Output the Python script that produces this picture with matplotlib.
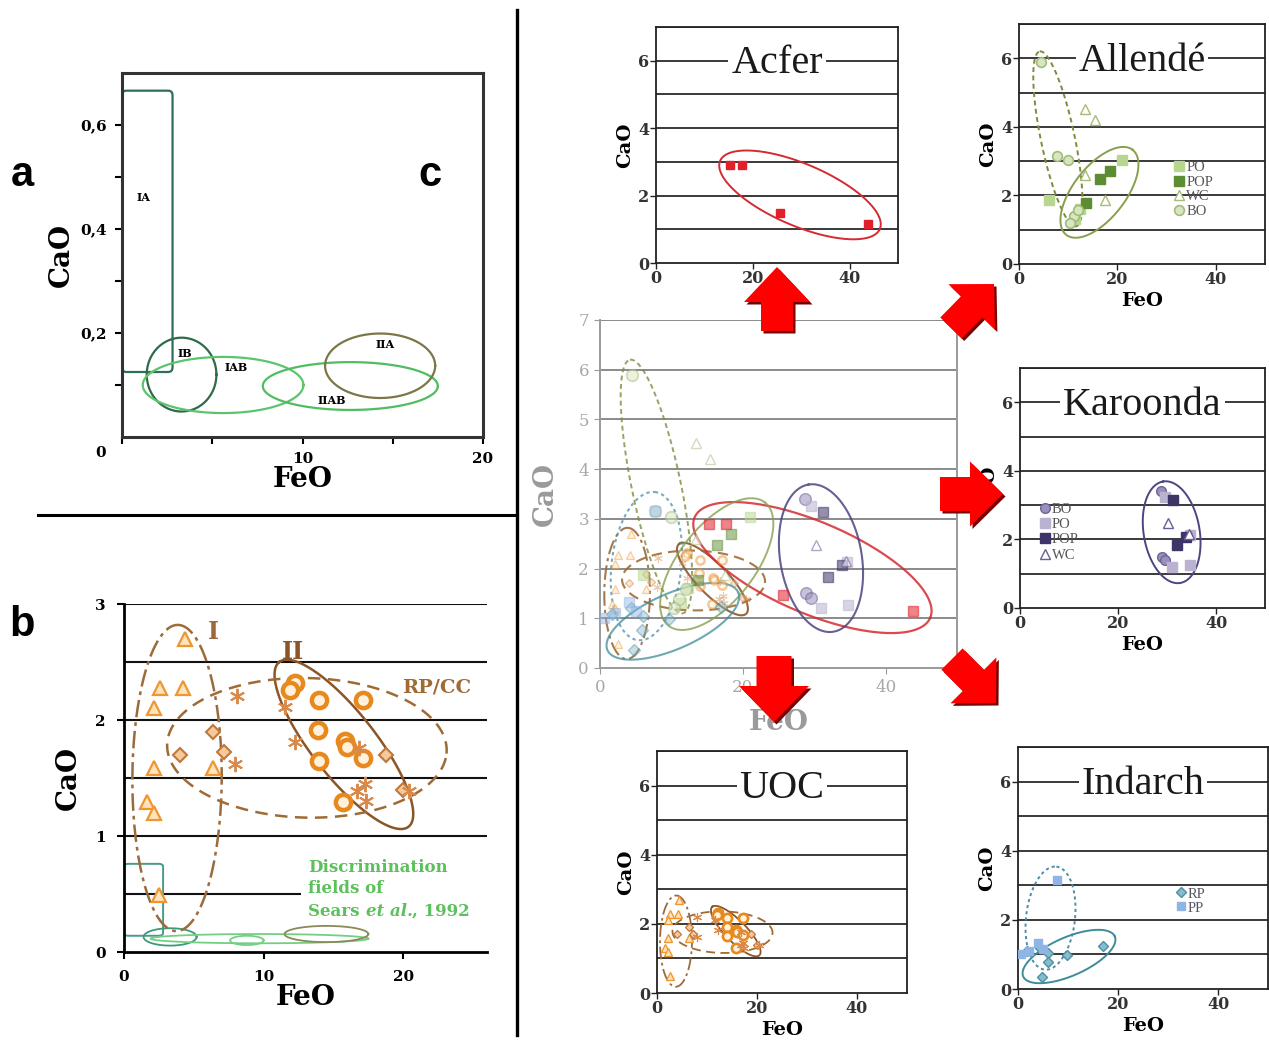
import numpy as np
import matplotlib
matplotlib.use("Agg")
import matplotlib.pyplot as plt
from matplotlib.lines import Line2D
from matplotlib.patches import Polygon, FancyBboxPatch

W, H = 1269, 1041
SERIF = "DejaVu Serif"
TITLE = "Liberation Serif"

# ---- (a) Sears et al. 1992 discrimination fields
ia_feo = (0.0, 2.8)
ia_cao = (0.125, 0.666)
sears_label = ["IB", "IAB", "IIAB", "IIA"]
sears_cx = [3.3, 5.6, 12.65, 14.3]
sears_cy = [0.12, 0.10, 0.098, 0.137]
sears_rx = [1.93, 4.45, 4.85, 3.05]
sears_ry = [0.071, 0.054, 0.046, 0.062]
sears_color = ["#2f6b48", "#5cc46c", "#4fbd60", "#7c7648"]
sears_lab_x = [3.5, 6.3, 11.6, 14.6]
sears_lab_y = [0.16, 0.133, 0.071, 0.177]

# same fields redrawn on the CaO 0-3 scale of (b)
sears_b_box = (0.0, 0.14, 2.8, 0.76)
sears_b_cx = [3.3, 9.7, 8.8, 14.5]
sears_b_cy = [0.13, 0.115, 0.10, 0.155]
sears_b_rx = [1.9, 7.8, 1.2, 3.0]
sears_b_ry = [0.075, 0.04, 0.04, 0.07]
sears_b_color = ["#3b9a7a", "#74cf84", "#74cf84", "#8a8a58"]

# ---- (b) / UOC chondrules
tri_fe = [4.37, 2.58, 4.24, 2.15, 2.15, 6.4, 1.62, 2.15, 2.53]
tri_ca = [2.70, 2.28, 2.28, 2.10, 1.59, 1.59, 1.29, 1.20, 0.49]
dia_fe = [4.0, 6.4, 7.16, 18.8, 20.0]
dia_ca = [1.70, 1.90, 1.72, 1.70, 1.40]
cir_fe = [12.24, 11.9, 14.0, 17.1, 13.9, 15.8, 15.94, 17.1, 14.0, 15.7]
cir_ca = [2.32, 2.26, 2.17, 2.17, 1.91, 1.82, 1.77, 1.67, 1.65, 1.29]
ast_fe = [8.07, 11.5, 12.24, 7.95, 16.8, 17.25, 16.7, 17.3, 20.4]
ast_ca = [2.21, 2.11, 1.81, 1.62, 1.76, 1.45, 1.39, 1.30, 1.39]
# ellipses: centre, conjugate half-axis vectors (FeO, CaO)
oval_I = ((3.8, 1.5), (0.05, 1.32), (3.2, 0.0))
oval_II = ((15.75, 1.79), (-4.63, 0.71), (1.80, 0.17))
oval_rpcc = ((13.1, 1.76), (10.0, -0.05), (0.5, 0.60))

# ---- Acfer
acfer_fe = [15.3, 17.7, 25.6, 43.8]
acfer_ca = [2.90, 2.90, 1.47, 1.15]
oval_acfer = ((29.75, 2.02), (16.5, -1.01), (2.5, 0.846))

# ---- Allende
all_po_fe = [21.0, 6.0, 11.3, 12.3]
all_po_ca = [3.04, 1.88, 1.30, 1.60]
all_pop_fe = [16.4, 18.4, 13.7]
all_pop_ca = [2.48, 2.70, 1.78]
all_wc_fe = [13.5, 15.4, 13.5, 17.5]
all_wc_ca = [4.52, 4.20, 2.60, 1.88]
all_bo_fe = [4.5, 7.7, 9.9, 11.1, 10.4, 12.0]
all_bo_ca = [5.9, 3.16, 3.04, 1.39, 1.20, 1.58]
oval_all_bo = ((7.9, 3.65), (-3.7, 2.55), (3.37, 0.10))
oval_all = ((16.35, 2.09), (6.75, 1.24), (4.16, -0.467))

# ---- Karoonda
kar_bo_fe = [28.7, 28.9, 29.5]
kar_bo_ca = [3.40, 1.50, 1.41]
kar_po_fe = [29.6, 34.6, 31.0, 34.7]
kar_po_ca = [3.25, 2.14, 1.21, 1.26]
kar_pop_fe = [31.2, 33.9, 32.0]
kar_pop_ca = [3.14, 2.07, 1.84]
kar_wc_fe = [30.3, 34.4]
kar_wc_ca = [2.48, 2.15]
oval_kar = ((30.95, 2.21), (-1.75, 1.48), (5.63, 0.137))

# ---- Indarch
ind_rp_fe = [1.7, 6.0, 5.9, 4.7, 9.7, 17.0, 4.3]
ind_rp_ca = [1.09, 1.04, 0.77, 0.36, 0.99, 1.23, 1.20]
ind_pp_fe = [7.7, 4.0, 2.1, 0.6, 5.0]
ind_pp_ca = [3.16, 1.33, 1.10, 1.00, 1.15]
oval_ind_pp = ((6.5, 2.05), (1.18, 1.49), (4.86, -0.08))
oval_ind_rp = ((10.2, 0.94), (9.16, 0.58), (1.54, -0.51))

fig = plt.figure(figsize=(W / 100, H / 100), dpi=100)


def box(l, t, r, b):
    return fig.add_axes([l / W, 1 - b / H, (r - l) / W, (b - t) / H])


def oval(ax, c, p, q, **kw):
    t = np.linspace(0, 2 * np.pi, 241)
    ax.plot(c[0] + p[0] * np.cos(t) + q[0] * np.sin(t),
            c[1] + p[1] * np.cos(t) + q[1] * np.sin(t), **kw)


def uoc_points(ax, s=1.0, a=1.0):
    ax.plot(tri_fe, tri_ca, ls="none", marker="^", ms=10 * s, mfc="#fde3c0",
            mec="#f0962e", mew=1.6 * s, alpha=a, zorder=4)
    ax.plot(dia_fe, dia_ca, ls="none", marker="D", ms=7.5 * s, mfc="#f6c99a",
            mec="#c0783a", mew=1.5 * s, alpha=a, zorder=4)
    ax.plot(cir_fe, cir_ca, ls="none", marker="o", ms=11 * s, mfc="#fff1dc",
            mec="#e8891e", mew=3.2 * s, alpha=a, zorder=4)
    ax.plot(ast_fe, ast_ca, ls="none", marker=(6, 2, 0), ms=11 * s,
            mec="#d9894a", mew=1.4 * s, alpha=a, zorder=4)


def uoc_ovals(ax, lw=1.6, a=1.0):
    oval(ax, *oval_I, color="#9b6b3c", lw=lw, alpha=a, ls=(0, (7, 2, 1.5, 2)))
    oval(ax, *oval_II, color="#8b5527", lw=lw, alpha=a)
    oval(ax, *oval_rpcc, color="#a06a35", lw=lw, alpha=a, ls=(0, (5, 3)))


def acfer(ax, s=1.0, a=1.0, lw=1.4):
    ax.plot(acfer_fe, acfer_ca, ls="none", marker="s", ms=6 * s, color="#e0202a", alpha=a, zorder=4)
    oval(ax, *oval_acfer, color="#d42a30", lw=lw, alpha=min(1, a + 0.3))


def allende(ax, s=1.0, a=1.0, lw=1.4):
    h = [ax.plot(all_po_fe, all_po_ca, ls="none", marker="s", ms=6.5 * s, color="#b7d78f", alpha=a, zorder=4)[0],
         ax.plot(all_pop_fe, all_pop_ca, ls="none", marker="s", ms=6.5 * s, color="#5e8c32", alpha=a, zorder=4)[0],
         ax.plot(all_wc_fe, all_wc_ca, ls="none", marker="^", ms=6.5 * s, mfc="white", mec="#a8bc78",
                 mew=1.0, alpha=a, zorder=4)[0],
         ax.plot(all_bo_fe, all_bo_ca, ls="none", marker="o", ms=7 * s, mfc="#d6e6bf", mec="#a3ba7c",
                 mew=1.2, alpha=a, zorder=4)[0]]
    oval(ax, *oval_all_bo, color="#7d8c3c", lw=lw, alpha=min(1, a + 0.3), ls=(0, (2.5, 1.8)))
    oval(ax, *oval_all, color="#86a04e", lw=lw, alpha=min(1, a + 0.3))
    return h


def karoonda(ax, s=1.0, a=1.0, lw=1.4):
    h = [ax.plot(kar_bo_fe, kar_bo_ca, ls="none", marker="o", ms=7 * s, mfc="#9a8fbd", mec="#6f6496",
                 mew=1.0, alpha=a, zorder=4)[0],
         ax.plot(kar_po_fe, kar_po_ca, ls="none", marker="s", ms=6.5 * s, color="#bab2d0", alpha=a, zorder=4)[0],
         ax.plot(kar_pop_fe, kar_pop_ca, ls="none", marker="s", ms=6.5 * s, color="#3f3468", alpha=a, zorder=4)[0],
         ax.plot(kar_wc_fe, kar_wc_ca, ls="none", marker="^", ms=6.5 * s, mfc="white", mec="#6b5f95",
                 mew=1.0, alpha=a, zorder=4)[0]]
    oval(ax, *oval_kar, color="#4a4680", lw=lw, alpha=min(1, a + 0.3))
    return h


def indarch(ax, s=1.0, a=1.0, lw=1.4):
    h = [ax.plot(ind_rp_fe, ind_rp_ca, ls="none", marker="D", ms=5 * s, mfc="#86bccc", mec="#4f8ea4",
                 mew=1.0, alpha=a, zorder=4)[0],
         ax.plot(ind_pp_fe, ind_pp_ca, ls="none", marker="s", ms=6 * s, color="#8fb4e6", alpha=a, zorder=4)[0]]
    oval(ax, *oval_ind_pp, color="#4d8ea6", lw=lw, alpha=min(1, a + 0.3), ls=(0, (1.6, 1.6)))
    oval(ax, *oval_ind_rp, color="#3e8c9a", lw=lw, alpha=min(1, a + 0.3))
    return h


def small(ax, title, xlabel=True):
    ax.set_xlim(0, 50)
    ax.set_ylim(0, 7)
    ax.hlines(range(1, 8), 0, 50, color="#2a2a2a", lw=1.3, zorder=1)
    for sp in ax.spines.values():
        sp.set_color("#222")
        sp.set_linewidth(1.3)
    ax.set_yticks([0, 2, 4, 6])
    ax.set_xticks([0, 20, 40])
    ax.tick_params(direction="out", length=4, width=1, labelsize=11.5, colors="#222", pad=1)
    for lab in ax.get_xticklabels() + ax.get_yticklabels():
        lab.set_family(SERIF)
        lab.set_fontweight("bold")
        lab.set_color("#333")
    ax.set_ylabel("CaO", family=SERIF, fontweight="bold", fontsize=14, labelpad=3)
    if xlabel:
        ax.set_xlabel("FeO", family=SERIF, fontweight="bold", fontsize=14, labelpad=3)
    ax.text(25, 5.92, title, ha="center", va="center", family=TITLE, fontsize=29, color="#1a1a1a",
            zorder=6, bbox=dict(facecolor="white", edgecolor="none", pad=2))


# ---------------- panel a ----------------
ax = box(122, 73, 483, 437)
ax.set_xlim(0, 20)
ax.set_ylim(0, 0.7)
ax.add_patch(FancyBboxPatch((ia_feo[0], ia_cao[0]), ia_feo[1] - ia_feo[0], ia_cao[1] - ia_cao[0],
                            boxstyle="round,pad=0,rounding_size=0.25", mutation_aspect=0.035,
                            fill=False, ec="#2f6f5a", lw=1.6))
for cx, cy, rx, ry, col in zip(sears_cx, sears_cy, sears_rx, sears_ry, sears_color):
    oval(ax, (cx, cy), (rx, 0), (0, ry), color=col, lw=1.6)
ax.text(1.2, 0.46, "IA", family=SERIF, fontweight="bold", fontsize=8, ha="center", va="center")
for lab, x, y in zip(sears_label, sears_lab_x, sears_lab_y):
    ax.text(x, y, lab, family=SERIF, fontweight="bold", fontsize=8, ha="center", va="center")
for sp in ax.spines.values():
    sp.set_linewidth(2.2)
    sp.set_color("#333")
ax.set_xticks([0, 5, 10, 15, 20])
ax.set_xticklabels(["", "", "10", "", "20"])
ax.set_yticks([0.1, 0.2, 0.3, 0.4, 0.5, 0.6])
ax.set_yticklabels(["", "0,2", "", "0,4", "", "0,6"])
ax.tick_params(direction="out", length=5, width=1.5, labelsize=11, pad=6)
for lab in ax.get_xticklabels() + ax.get_yticklabels():
    lab.set_family(SERIF)
    lab.set_fontweight("bold")
ax.text(-0.06, -0.045, "0", transform=ax.transAxes, family=SERIF, fontweight="bold",
        fontsize=11, ha="center", va="center")
ax.set_xlabel("FeO", family=SERIF, fontweight="bold", fontsize=20, labelpad=0)
ax.set_ylabel("CaO", family=SERIF, fontweight="bold", fontsize=20, labelpad=4)

# ---------------- panel b ----------------
ax = box(124, 604, 487, 952)
ax.set_xlim(0, 26)
ax.set_ylim(0, 3)
ax.hlines([1, 1.5, 2, 2.5, 3], 0, 26, color="#111", lw=1.5, zorder=1)
ax.hlines(0.5, 0, 12.7, color="#111", lw=1.5, zorder=1)
ax.add_patch(FancyBboxPatch((sears_b_box[0], sears_b_box[1]), sears_b_box[2] - sears_b_box[0],
                            sears_b_box[3] - sears_b_box[1], boxstyle="round,pad=0,rounding_size=0.3",
                            mutation_aspect=0.083, fill=False, ec="#4a9a8a", lw=1.4))
for cx, cy, rx, ry, col in zip(sears_b_cx, sears_b_cy, sears_b_rx, sears_b_ry, sears_b_color):
    oval(ax, (cx, cy), (rx, 0), (0, ry), color=col, lw=1.3)
uoc_ovals(ax, lw=1.8)
uoc_points(ax)
ax.text(6.0, 2.76, "I", family=SERIF, fontweight="bold", fontsize=17, color="#9b6b3c", va="center")
ax.text(12.1, 2.59, "II", family=SERIF, fontweight="bold", fontsize=17, color="#8b5527", ha="center", va="center")
ax.text(22.4, 2.28, "RP/CC", family=SERIF, fontweight="bold", fontsize=14, color="#a06a35",
        ha="center", va="center")
green = "#5cc05c"
ax.text(13.2, 0.73, "Discrimination", family=SERIF, fontweight="bold", fontsize=12, color=green, va="center")
ax.text(13.2, 0.55, "fields of", family=SERIF, fontweight="bold", fontsize=12, color=green, va="center")
t1 = ax.text(13.2, 0.35, "Sears ", family=SERIF, fontweight="bold", fontsize=12, color=green, va="center")
t2 = ax.annotate("et al.", xy=(1, 0), xycoords=t1, va="bottom", family=SERIF, fontweight="bold",
                 fontstyle="italic", fontsize=12, color=green)
ax.annotate(", 1992", xy=(1, 0), xycoords=t2, va="bottom", family=SERIF, fontweight="bold",
            fontsize=12, color=green)
for side in ["top", "right"]:
    ax.spines[side].set_visible(False)
for side in ["left", "bottom"]:
    ax.spines[side].set_linewidth(2)
ax.set_xticks([0, 10, 20])
ax.set_yticks([0, 1, 2, 3])
ax.tick_params(direction="out", length=5, width=1.5, labelsize=11, pad=8)
for lab in ax.get_xticklabels() + ax.get_yticklabels():
    lab.set_family(SERIF)
    lab.set_fontweight("bold")
ax.set_xlabel("FeO", family=SERIF, fontweight="bold", fontsize=20, labelpad=0)
ax.set_ylabel("CaO", family=SERIF, fontweight="bold", fontsize=20, labelpad=10)

# ---------------- panel c: all chondrites together ----------------
ax = box(600, 320, 957, 668)
ax.set_xlim(0, 50)
ax.set_ylim(0, 7)
ax.hlines(range(1, 8), 0, 50, color="#8a8a8a", lw=1.4, zorder=1)
uoc_ovals(ax, lw=1.5, a=0.9)
uoc_points(ax, s=0.55, a=0.45)
acfer(ax, s=1.2, a=0.55, lw=1.6)
allende(ax, s=1.2, a=0.5, lw=1.4)
karoonda(ax, s=1.2, a=0.55, lw=1.5)
indarch(ax, s=1.2, a=0.45, lw=1.5)
ax.spines["top"].set_visible(False)
for side in ["left", "bottom", "right"]:
    ax.spines[side].set_color("#9a9a9a")
    ax.spines[side].set_linewidth(1.4)
ax.set_xticks([0, 20, 40])
ax.set_yticks(range(8))
ax.tick_params(direction="out", length=4, colors="#9a9a9a", labelsize=12, labelcolor="#a8a8a8", pad=4)
for lab in ax.get_xticklabels() + ax.get_yticklabels():
    lab.set_family(SERIF)
ax.set_xlabel("FeO", family=SERIF, fontweight="bold", fontsize=20, color="#9a9a9a", labelpad=9)
ax.set_ylabel("CaO", family=SERIF, fontweight="bold", fontsize=20, color="#9a9a9a", labelpad=14)

# ---------------- small panels ----------------
ax = box(656, 27, 898, 263)
acfer(ax)
small(ax, "Acfer", xlabel=False)

ax = box(1019, 24, 1265, 264)
h = allende(ax)
small(ax, "Allendé")
ax.legend(h, ["PO", "POP", "WC", "BO"], loc="upper left", bbox_to_anchor=(0.63, 0.43), frameon=False,
          prop=dict(family=TITLE, size=10.5), handlelength=0.7, handletextpad=0.15, labelspacing=0.1,
          borderpad=0, borderaxespad=0, labelcolor="#555")

ax = box(1020, 368, 1265, 608)
h = karoonda(ax)
small(ax, "Karoonda")
ax.legend(h, ["BO", "PO", "POP", "WC"], loc="upper left", bbox_to_anchor=(0.08, 0.44), frameon=False,
          prop=dict(family=TITLE, size=10.5), handlelength=0.7, handletextpad=0.15, labelspacing=0.15,
          borderpad=0, borderaxespad=0, labelcolor="#555")

ax = box(657, 751, 907, 993)
uoc_ovals(ax, lw=1.3)
uoc_points(ax, s=0.6)
small(ax, "UOC")

ax = box(1018, 747, 1268, 989)
h = indarch(ax)
small(ax, "Indarch")
ax.legend(h, ["RP", "PP"], loc="upper left", bbox_to_anchor=(0.63, 0.42), frameon=False,
          prop=dict(family=TITLE, size=10.5), handlelength=0.7, handletextpad=0.15, labelspacing=0.05,
          borderpad=0, borderaxespad=0, labelcolor="#556")


# ---------------- separators, panel letters, arrows ----------------
def to_fig(pts):
    pts = np.asarray(pts, float)
    return np.column_stack([pts[:, 0] / W, 1 - pts[:, 1] / H])


fig.add_artist(Line2D([517 / W, 517 / W], [1 - 10 / H, 1 - 1035 / H], color="black", lw=2.4))
fig.add_artist(Line2D([38 / W, 517 / W], [1 - 515 / H, 1 - 515 / H], color="black", lw=2.2))
for letter, x, y in [("a", 22, 175), ("b", 22, 625), ("c", 430, 175)]:
    fig.text(x / W, 1 - y / H, letter, family="Liberation Sans", fontweight="bold", fontsize=30,
             ha="center", va="center")


def block_arrow(tail, tip, shaft_w, head_w, head_l):
    tail, tip = np.array(tail, float), np.array(tip, float)
    u = (tip - tail) / np.hypot(*(tip - tail))
    n = np.array([-u[1], u[0]])
    base = tip - u * head_l
    return np.array([tail + n * shaft_w / 2, base + n * shaft_w / 2, base + n * head_w / 2, tip,
                     base - n * head_w / 2, base - n * shaft_w / 2, tail - n * shaft_w / 2])


arrows = [((777, 331), (777, 267), 32, 66, 35),
          ((774, 656), (774, 722), 35, 70, 36),
          ((940, 494), (1003, 494), 34, 65, 33),
          ((951, 328), (994, 284), 30, 65, 32),
          ((952, 659), (996, 703), 30, 65, 32)]
for tail, tip, sw, hw, hl in arrows:
    pts = block_arrow(tail, tip, sw, hw, hl)
    fig.add_artist(Polygon(to_fig(pts + 2.5), closed=True, fc="#7a0000", ec="none",
                           transform=fig.transFigure, zorder=10))
    fig.add_artist(Polygon(to_fig(pts), closed=True, fc="#ff0000", ec="none",
                           transform=fig.transFigure, zorder=11))

fig.savefig("out.png", dpi=100)
